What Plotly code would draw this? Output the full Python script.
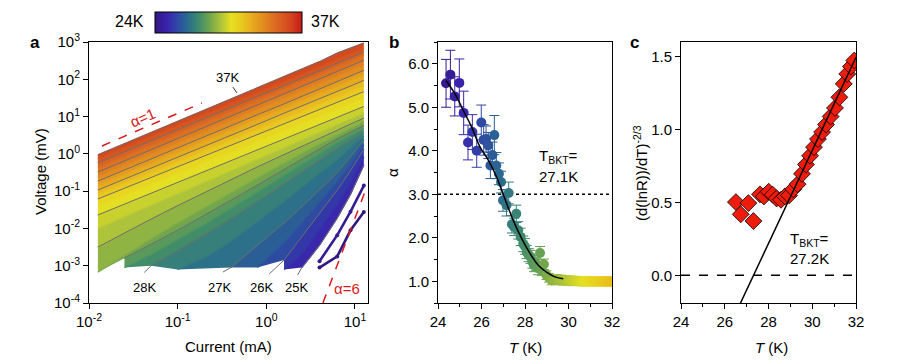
import plotly.graph_objects as go
from plotly.colors import sample_colorscale

# the page body has an 8px margin, so the figure is drawn 8px in from the corner
W, H = 891, 356
OFF = 8
FONT = "Liberation Sans, Arial, sans-serif"

# temperature colour scale, 24 K .. 37 K
T_MIN, T_MAX = 24.0, 37.0
temp_scale = [
    [0.00, "#33177f"], [0.08, "#3a22ad"], [0.15, "#2f45a6"], [0.22, "#2a6b8e"],
    [0.30, "#3f8c6c"], [0.37, "#6ea44e"], [0.44, "#a8c03c"], [0.52, "#e6e021"],
    [0.60, "#e9c51f"], [0.70, "#e59a1e"], [0.82, "#db6a22"], [0.92, "#d4461e"],
    [1.00, "#c81a1a"],
]

# ---- panel a: I-V curves (log10 of current in mA, log10 of voltage in mV)
log_current = [-1.9, -1.6, -1.3, -1.0, -0.7, -0.4, -0.1, 0.2, 0.4, 0.6, 0.8, 0.95, 1.1]
iv_temps = [24.0, 24.5, 25.0, 25.5, 26.0, 26.5, 27.0, 27.5, 28.0, 28.5, 29.0, 29.5, 30.0,
            30.5, 31.0, 31.5, 32.0, 32.5, 33.0, 33.5, 34.0, 34.5, 35.0, 35.5, 36.0, 36.5, 37.0]
N = None
log_voltage = [
    [N, N, N, N, N, N, N, N, N, -3.05, -2.75, -2.05, -1.56],
    [N, N, N, N, N, N, N, N, N, -2.88, -2.18, -1.55, -0.85],
    [N, N, N, N, N, N, N, N, -3.05, -2.45, -1.72, -1.08, -0.30],
    [N, N, N, N, N, N, N, -3.10, -2.70, -2.03, -1.35, -0.78, -0.08],
    [N, N, N, N, N, N, N, -2.85, -2.22, -1.58, -0.97, -0.45, 0.12],
    [N, N, N, N, N, N, -3.05, -2.38, -1.85, -1.30, -0.73, -0.27, 0.25],
    [N, N, N, N, N, -3.05, -2.45, -1.85, -1.42, -0.97, -0.50, -0.08, 0.38],
    [N, N, N, -3.10, -2.80, -2.35, -1.82, -1.28, -0.91, -0.53, -0.16, 0.17, 0.48],
    [N, N, -3.00, -2.60, -2.18, -1.74, -1.28, -0.80, -0.48, -0.16, 0.15, 0.37, 0.58],
    [N, -3.05, -2.70, -2.30, -1.90, -1.47, -1.03, -0.58, -0.28, 0.00, 0.30, 0.49, 0.68],
    [N, -2.80, -2.43, -2.05, -1.65, -1.25, -0.84, -0.42, -0.14, 0.13, 0.40, 0.58, 0.76],
    [-3.17, -2.72, -2.28, -1.85, -1.44, -1.04, -0.64, -0.24, 0.02, 0.27, 0.51, 0.69, 0.86],
    [-2.50, -2.12, -1.75, -1.39, -1.04, -0.69, -0.35, -0.02, 0.20, 0.41, 0.63, 0.80, 0.96],
    [-2.00, -1.69, -1.38, -1.07, -0.76, -0.45, -0.14, 0.16, 0.37, 0.58, 0.78, 0.94, 1.09],
    [-1.64, -1.35, -1.06, -0.77, -0.48, -0.19, 0.10, 0.39, 0.59, 0.78, 0.97, 1.12, 1.27],
    [-1.40, -1.11, -0.82, -0.54, -0.25, 0.04, 0.33, 0.62, 0.81, 1.00, 1.19, 1.34, 1.48],
    [-1.21, -0.92, -0.63, -0.35, -0.06, 0.23, 0.52, 0.81, 1.00, 1.19, 1.38, 1.53, 1.67],
    [-1.09, -0.80, -0.51, -0.22, 0.07, 0.37, 0.66, 0.95, 1.14, 1.33, 1.53, 1.67, 1.82],
    [-0.97, -0.68, -0.38, -0.09, 0.21, 0.50, 0.79, 1.09, 1.28, 1.48, 1.67, 1.82, 1.97],
    [-0.85, -0.55, -0.26, 0.04, 0.33, 0.63, 0.93, 1.22, 1.42, 1.62, 1.82, 1.97, 2.12],
    [-0.73, -0.43, -0.14, 0.16, 0.45, 0.75, 1.05, 1.34, 1.54, 1.74, 1.94, 2.09, 2.24],
    [-0.61, -0.31, -0.01, 0.29, 0.59, 0.89, 1.19, 1.49, 1.69, 1.89, 2.09, 2.24, 2.39],
    [-0.49, -0.19, 0.11, 0.41, 0.71, 1.01, 1.31, 1.61, 1.81, 2.01, 2.21, 2.36, 2.51],
    [-0.36, -0.06, 0.24, 0.54, 0.84, 1.14, 1.44, 1.74, 1.94, 2.14, 2.34, 2.49, 2.64],
    [-0.24, 0.06, 0.35, 0.65, 0.94, 1.24, 1.54, 1.83, 2.03, 2.23, 2.43, 2.58, 2.73],
    [-0.13, 0.17, 0.46, 0.76, 1.05, 1.35, 1.65, 1.94, 2.14, 2.34, 2.54, 2.69, 2.84],
    [-0.03, 0.27, 0.57, 0.87, 1.17, 1.47, 1.77, 2.07, 2.27, 2.47, 2.70, 2.84, 2.97],
]
# gray fit lines at whole kelvins, and where they run down to the labels
gray_temps = [25.0, 26.0, 27.0, 28.0, 29.0, 30.0, 31.0, 32.0, 33.0, 34.0, 35.0, 36.0, 37.0]
label_temps = [28, 27, 26, 25]
label_log_i = [-1.37, -0.53, -0.05, 0.345]
anchor_log_i = [-1.376, -0.489, 0.033, 0.353]
anchor_log_v = [-3.18, -3.17, -3.22, -3.25]
alpha1_current = [0.014, 0.188]
alpha1_voltage = [1.63, 23.2]
alpha6_current = [4.35, 13.6]
alpha6_voltage = [1e-4, 0.13]

# ---- panel b: exponent alpha vs T
alpha_T = [24.37, 24.57, 24.77, 24.98, 25.18, 25.38, 25.58, 25.78, 25.99, 26.10, 26.21, 26.31,
           26.41, 26.50, 26.59, 26.68, 26.80, 26.90, 26.99, 27.15, 27.25, 27.40, 27.50, 27.60,
           27.69, 27.80, 27.92, 28.00, 28.08, 28.17, 28.26, 28.34, 28.41, 28.50, 28.60, 28.69,
           28.78, 28.87, 28.99, 29.10, 29.23,
           29.35, 29.45, 29.55, 29.65, 29.75, 29.85, 29.95, 30.05, 30.15, 30.25, 30.35, 30.45,
           30.55, 30.65, 30.75, 30.85, 30.95, 31.05, 31.15, 31.25, 31.35, 31.45, 31.55, 31.65,
           31.75, 31.85, 31.95]
alpha_val = [5.55, 5.75, 5.25, 5.56, 4.87, 4.19, 4.43, 4.00, 4.65, 4.25, 4.27, 4.12,
             3.66, 3.90, 4.36, 3.66, 3.47, 3.28, 2.86, 2.75, 3.03, 2.31, 2.25, 2.55,
             2.17, 2.02, 1.86, 1.80, 1.67, 1.60, 1.56, 1.45, 1.37, 1.40, 1.30, 1.65,
             1.25, 1.39, 1.14, 1.08, 1.02,
             1.03, 1.05, 1.02, 1.04, 1.01, 1.03, 1.02, 1.00, 1.02, 1.01, 1.00, 1.01,
             1.00, 0.99, 1.00, 1.01, 0.99, 1.00, 1.00, 0.99, 1.00, 1.00, 0.99, 1.00,
             0.99, 1.00, 0.99]
alpha_err = [0.55, 0.56, 0.45, 0.55, 0.50, 0.40, 0.40, 0.38, 0.40, 0.35, 0.30, 0.30,
             0.30, 0.30, 0.45, 0.30, 0.25, 0.25, 0.25, 0.25, 0.25, 0.20, 0.20, 0.20,
             0.20, 0.20, 0.18, 0.18, 0.15, 0.15, 0.15, 0.15, 0.15, 0.15, 0.15, 0.15,
             0.12, 0.12, 0.10, 0.10, 0.10] + [0.10] * 27
fit_b_T = [24.37, 24.78, 25.17, 25.55, 25.94, 26.32, 26.70, 26.99, 27.46, 27.85, 28.23,
           28.61, 28.99, 29.38, 29.76]
fit_b_alpha = [5.61, 5.31, 4.92, 4.54, 4.08, 3.78, 3.39, 3.01, 2.40, 1.98, 1.64,
               1.37, 1.21, 1.10, 1.06]

# ---- panel c: (d lnR / dT)^(-2/3) vs T
c_T = [26.51, 26.73, 27.08, 27.31, 27.61, 27.79, 28.01, 28.19, 28.37, 28.57, 28.75, 28.94,
       29.13, 29.33, 29.53, 29.71, 29.90, 30.08, 30.26, 30.45, 30.63, 30.84, 31.04, 31.24,
       31.44, 31.60, 31.77, 31.92]
c_val = [0.502, 0.418, 0.495, 0.372, 0.555, 0.541, 0.573, 0.553, 0.527, 0.518, 0.541, 0.548,
         0.591, 0.625, 0.696, 0.760, 0.820, 0.879, 0.934, 0.982, 1.034, 1.089, 1.148, 1.221,
         1.313, 1.381, 1.432, 1.473]
fit_c_T = [26.72, 32.0]
fit_c_val = [-0.19, 1.495]


def px(x):
    return (x - OFF) / W


def py(y):
    return 1 - (y - OFF) / H


def tcol(temps, top=T_MAX):
    return sample_colorscale(temp_scale, [min(1.0, (t - T_MIN) / (top - T_MIN)) for t in temps])


def curve_xy(row):
    xs, ys = [], []
    for lx, lv in zip(log_current, row):
        if lv is not None:
            xs.append(10 ** lx)
            ys.append(10 ** lv)
    return xs, ys


fig = go.Figure()

# panel a: coloured bands between neighbouring curves
CURVE_TOP = 38.0
for k in range(len(iv_temps) - 1):
    if iv_temps[k] < 25.0:
        continue
    xl, yl = curve_xy(log_voltage[k])
    xu, yu = curve_xy(log_voltage[k + 1])
    col = tcol([(iv_temps[k] + iv_temps[k + 1]) / 2], CURVE_TOP)[0]
    fig.add_trace(go.Scatter(x=xl + xu[::-1], y=yl + yu[::-1], fill="toself", fillcolor=col,
                             mode="lines", line=dict(width=0), hoverinfo="skip",
                             xaxis="x", yaxis="y"))

curve_cols = tcol(iv_temps, CURVE_TOP)
for t, row, col in zip(iv_temps, log_voltage, curve_cols):
    xs, ys = curve_xy(row)
    low = t < 25.0
    fig.add_trace(go.Scatter(x=xs, y=ys, mode="lines+markers" if low else "lines",
                             line=dict(color=col, width=2.6 if low else 1.4),
                             marker=dict(size=4, color=col),
                             xaxis="x", yaxis="y", hoverinfo="skip"))

for t in gray_temps:
    xs, ys = curve_xy(log_voltage[iv_temps.index(t)])
    if int(t) in label_temps:
        j = label_temps.index(int(t))
        xs = [10 ** anchor_log_i[j]] + xs
        ys = [10 ** anchor_log_v[j]] + ys
    fig.add_trace(go.Scatter(x=xs, y=ys, mode="lines", line=dict(color="#6e6e6e", width=1),
                             xaxis="x", yaxis="y", hoverinfo="skip"))

fig.add_trace(go.Scatter(x=alpha1_current, y=alpha1_voltage, mode="lines",
                         line=dict(color="#d7191c", width=1.5, dash="dash"), xaxis="x", yaxis="y"))
fig.add_trace(go.Scatter(x=alpha6_current, y=alpha6_voltage, mode="lines",
                         line=dict(color="#d7191c", width=1.5, dash="dash"), xaxis="x", yaxis="y"))
# leader for the 37K label
fig.add_trace(go.Scatter(x=[0.42, 0.467], y=[61.7, 43.0], mode="lines",
                         line=dict(color="#333333", width=1), xaxis="x", yaxis="y"))

# panel b
for t, a, e, col in zip(alpha_T, alpha_val, alpha_err, tcol(alpha_T)):
    fig.add_trace(go.Scatter(x=[t], y=[a], mode="markers", marker=dict(size=2, opacity=0),
                             error_y=dict(type="data", array=[e], color=col, thickness=1, width=5),
                             xaxis="x2", yaxis="y2", hoverinfo="skip"))
fig.add_trace(go.Scatter(x=[24, 32], y=[3, 3], mode="lines",
                         line=dict(color="black", width=1.5, dash="dot"), xaxis="x2", yaxis="y2"))
fig.add_trace(go.Scatter(
    x=alpha_T, y=alpha_val, mode="markers", xaxis="x2", yaxis="y2",
    marker=dict(size=10, color=alpha_T, colorscale=temp_scale, cmin=T_MIN, cmax=T_MAX,
                showscale=True,
                colorbar=dict(orientation="h", x=px(228.5), xanchor="center", y=py(12),
                              yanchor="top", len=147, lenmode="pixels", thickness=21,
                              thicknessmode="pixels", outlinewidth=1, outlinecolor="black",
                              ticks="", showticklabels=False, xpad=0, ypad=0, borderwidth=0)),
))
fig.add_trace(go.Scatter(x=fit_b_T, y=fit_b_alpha, mode="lines", line=dict(color="black", width=1.5),
                         line_shape="spline", xaxis="x2", yaxis="y2"))

# panel c
fig.add_trace(go.Scatter(x=[24, 32], y=[0, 0], mode="lines",
                         line=dict(color="black", width=1.5, dash="dash"), xaxis="x3", yaxis="y3"))
fig.add_trace(go.Scatter(x=c_T, y=c_val, mode="markers", xaxis="x3", yaxis="y3",
                         marker=dict(symbol="diamond", size=13, color="#ee1c0c",
                                     line=dict(color="black", width=0.8))))
fig.add_trace(go.Scatter(x=fit_c_T, y=fit_c_val, mode="lines", line=dict(color="black", width=1.5),
                         xaxis="x3", yaxis="y3", cliponaxis=True))

ax = dict(showline=True, linecolor="black", linewidth=1, mirror=True, ticks="outside",
          ticklen=5, tickcolor="black", showgrid=False, zeroline=False,
          tickfont=dict(size=15, color="black"))
ydom = [py(303), py(42)]
fig.update_layout(
    width=W, height=H, margin=dict(l=0, r=0, t=0, b=0, autoexpand=False),
    paper_bgcolor="white", plot_bgcolor="white", showlegend=False,
    font=dict(family=FONT, size=15, color="black"),
    xaxis=dict(ax, domain=[px(89), px(368)], type="log", range=[-2, 1.147], anchor="y",
               tickvals=[0.01, 0.1, 1, 10],
               ticktext=["10<sup>-2</sup>", "10<sup>-1</sup>", "10<sup>0</sup>", "10<sup>1</sup>"]),
    yaxis=dict(ax, domain=ydom, type="log", range=[-4, 3], anchor="x",
               tickvals=[1e-4, 1e-3, 1e-2, 1e-1, 1, 10, 100, 1000],
               ticktext=["10<sup>-4</sup>", "10<sup>-3</sup>", "10<sup>-2</sup>", "10<sup>-1</sup>",
                         "10<sup>0</sup>", "10<sup>1</sup>", "10<sup>2</sup>", "10<sup>3</sup>"]),
    xaxis2=dict(ax, domain=[px(438), px(612)], range=[24, 32], anchor="y2", dtick=2, tick0=24,
                minor=dict(dtick=1, tick0=24, ticks="outside", ticklen=3, tickcolor="black")),
    yaxis2=dict(ax, domain=ydom, range=[0.5, 6.5], anchor="x2", tickvals=[1, 2, 3, 4, 5, 6],
                tickformat=".1f",
                minor=dict(dtick=0.5, tick0=0.5, ticks="outside", ticklen=3, tickcolor="black")),
    xaxis3=dict(ax, domain=[px(681), px(856)], range=[24, 32], anchor="y3", dtick=2, tick0=24,
                minor=dict(dtick=1, tick0=24, ticks="outside", ticklen=3, tickcolor="black")),
    yaxis3=dict(ax, domain=ydom, range=[-0.19, 1.6], anchor="x3", tickvals=[0, 0.5, 1.0, 1.5],
                tickformat=".1f"),
)

ann = []


def note(text, x, y, size=15, color="black", xanchor="center", angle=0, xr="paper", yr="paper"):
    ann.append(dict(text=text, x=x, y=y, xref=xr, yref=yr, showarrow=False,
                    font=dict(size=size, color=color, family=FONT),
                    xanchor=xanchor, yanchor="middle", textangle=angle))


# panel letters
note("<b>a</b>", px(35), py(43), size=17)
note("<b>b</b>", px(394), py(43), size=17)
note("<b>c</b>", px(634), py(43), size=17)
# colour bar labels
note("24K", px(146), py(22), size=16, xanchor="right")
note("37K", px(309), py(22), size=16, xanchor="left")
# axis titles
note("Current (mA)", px(228), py(346))
note("Voltage (mV)", px(40), py(172), angle=-90)
note("<i>T</i> (K)", px(525), py(347))
note("α", px(392), py(173), angle=-90)
note("<i>T</i> (K)", px(771), py(347))
note("(d(lnR))/dT)<sup>-2/3</sup>", px(640), py(173), angle=-90)
# panel a labels
note("37K", -0.433, 2.06, size=13, xr="x", yr="y")
for lab, lx in zip(label_temps, label_log_i):
    note(f"{lab}K", lx, -3.595, size=13, xr="x", yr="y")
note("α=1", -1.391, 0.962, color="#d7191c", angle=-23, xr="x", yr="y")
note("α=6", 0.909, -3.62, color="#d7191c", xr="x", yr="y")
# T_BKT labels
note("T<sub>BKT</sub>=", px(558), py(156))
note("27.1K", px(558), py(176))
note("T<sub>BKT</sub>=", px(788), py(239), xanchor="left")
note("27.2K", px(788), py(258), xanchor="left")
fig.update_layout(annotations=ann)

fig.write_html("out.html")
